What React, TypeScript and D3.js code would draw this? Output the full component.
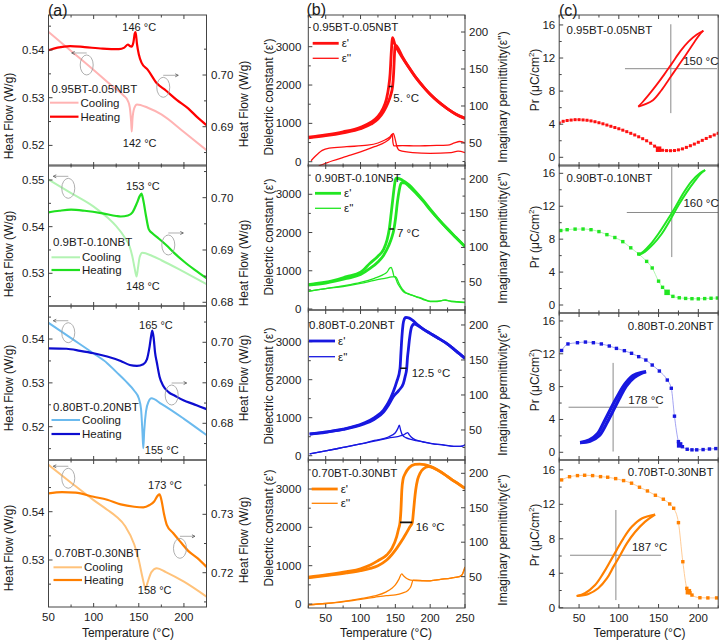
import React from "react";
import * as d3 from "d3";

type Pt = [number, number];

/* ================= (a) DSC: cooling (left axis), heating (right axis) ================= */
const dscCool1: Pt[] = [[50,.5438],[75,.5398],[100,.5358],[120,.5325],[133,.5305],[138,.5293],[140,.528],[141.5,.525],[142.2,.5229],[143,.5255],[145,.5278],[148,.5286],[160,.5279],[175,.5265],[200,.5228],[225,.519]];
const dscHeat1: Pt[] = [[50,.7048],[60,.7053],[74,.7056],[90,.7054],[110,.7051],[128,.705],[134,.7053],[138,.7059],[140,.7056],[142,.7055],[144,.7063],[145.5,.708],[146.5,.7083],[148,.706],[150,.704],[153,.7024],[160,.701],[170,.6984],[180,.697],[192,.6952],[205,.6935],[215,.6918],[225,.6903]];
const dscCool2: Pt[] = [[50,.5501],[75,.5472],[100,.5443],[115,.542],[125,.5401],[135,.5375],[140,.5357],[143,.5335],[145.5,.531],[147.5,.5293],[149,.531],[151,.5335],[154,.5344],[165,.5337],[175,.5328],[200,.5303],[225,.5277]];
const dscHeat2: Pt[] = [[50,.6972],[62,.6975],[75,.6977],[90,.6975],[110,.697],[125,.6965],[130,.6964],[138,.6966],[143,.6972],[148,.699],[151,.7003],[153,.7008],[155,.6995],[158,.6965],[161,.694],[165,.6932],[172,.6922],[180,.691],[190,.6893],[200,.6878],[212,.6862],[225,.6846]];
const dscCool3: Pt[] = [[50,.5437],[75,.5402],[100,.5367],[115,.5345],[125,.5325],[135,.5305],[145,.5282],[150,.5265],[152.5,.524],[154,.519],[155,.5151],[156,.519],[158,.5235],[161,.5258],[164,.5265],[175,.5252],[200,.5218],[225,.5181]];
const dscHeat3: Pt[] = [[50,.6985],[70,.6984],[85,.6979],[100,.6973],[115,.6965],[130,.6954],[140,.6944],[148,.6942],[155,.6946],[159,.6958],[162,.699],[164,.702],[165,.7029],[166.5,.701],[168,.6975],[170,.695],[173,.6915],[177,.6893],[183,.6877],[190,.6868],[200,.6856],[210,.6848],[218,.6841],[225,.6835]];
const dscCool4: Pt[] = [[50,.5497],[75,.546],[100,.5424],[115,.5404],[125,.539],[135,.537],[145,.5332],[150,.53],[154,.5265],[157.5,.5241],[160,.5255],[164,.5275],[170,.5283],[180,.5275],[200,.5255],[225,.5224]];
const dscHeat4: Pt[] = [[50,.7336],[65,.7338],[80,.7337],[100,.733],[115,.7325],[130,.7317],[145,.7313],[155,.7312],[162,.7316],[167,.7322],[171,.7332],[173,.7334],[175,.7325],[178,.73],[181,.7282],[188,.7268],[195,.7255],[205,.7237],[215,.7225],[225,.721]];

const dscSamples = ["0.95BT-0.05NBT", "0.9BT-0.10NBT", "0.80BT-0.20NBT", "0.70BT-0.30NBT"];
const dscHeatPeak = [{ T: 150.5, v: 0.54488, t: "146 °C" }, { T: 154.6, v: 0.54871, t: "153 °C" }, { T: 169, v: 0.54319, t: "165 °C" }, { T: 179, v: 0.54553, t: "173 °C" }];
const dscCoolPeak = [{ T: 151, v: 0.52057, t: "142 °C" }, { T: 154.6, v: 0.52728, t: "148 °C" }, { T: 175.4, v: 0.51469, t: "155 °C" }, { T: 167.6, v: 0.52379, t: "158 °C" }];
const dscCircles = [
  [{ T: 92.3, v: 0.53686, dir: -1 }, { T: 177.1, v: 0.53218, dir: 1 }],
  [{ T: 71.9, v: 0.54822, dir: -1 }, { T: 182.7, v: 0.53607, dir: 1 }],
  [{ T: 71.9, v: 0.54144, dir: -1 }, { T: 186.4, v: 0.52723, dir: 1 }],
  [{ T: 71.9, v: 0.54692, dir: -1 }, { T: 195.6, v: 0.53242, dir: 1 }],
];

/* ================= (b) dielectric: eps' (left), eps'' (right) ================= */
const epsA1: Pt[] = [[25,640],[50,700],[75,780],[100,900],[115,1030],[125,1180],[132,1380],[137,1620],[140.5,1960],[142.5,2300],[144,2800],[145.3,3150],[146,3235],[147,3200],[149,3080],[152,2960],[160,2720],[170,2440],[180,2180],[190,1960],[200,1760],[212,1560],[225,1380],[237,1240],[250,1130]];
const epsB1: Pt[] = [[25,625],[50,680],[75,755],[100,860],[115,980],[125,1110],[133,1300],[139,1520],[143,1720],[146,1960],[147.5,2300],[148.5,2700],[149.5,3000],[151,3030],[154,2960],[160,2740],[170,2450],[180,2185],[190,1960],[200,1760],[212,1560],[225,1380],[237,1240],[250,1130]];
const lossA1: Pt[] = [[29,26],[35,32],[45,40],[55,43],[80,45],[110,47],[125,50],[135,54],[142,58],[145.5,62],[146.5,51],[148,46],[160,46.5],[180,46],[200,46.5],[225,47],[235,50],[242,52],[250,50]];
const lossB1: Pt[] = [[40,19],[60,26],[80,32],[100,38],[120,45],[135,51],[143,57],[147,63],[149,58],[152,46],[156,40],[175,37],[200,36],[230,37],[240,39],[250,37]];

const epsA2: Pt[] = [[25,640],[50,700],[80,846],[100,960],[113.6,1196],[125,1380],[132.7,1545],[138,1800],[141.3,2094],[144,2500],[146.5,2900],[148.5,3200],[150,3380],[151,3421],[153,3420],[160,3370],[170,3240],[180,3050],[190,2840],[200,2610],[212,2350],[224,2110],[237,1870],[250,1631]];
const epsB2: Pt[] = [[25,625],[50,680],[80,800],[100,900],[113.6,1060],[125,1230],[133,1400],[140,1640],[145,1880],[148,2094],[150.5,2400],[153,2800],[155.5,3100],[157.5,3260],[159,3306],[163,3300],[170,3200],[180,3020],[190,2820],[200,2595],[212,2345],[224,2110],[237,1870],[250,1631]];
const lossA2: Pt[] = [[25,36],[50,40],[75,44],[100,49],[120,55],[132,60],[138,64],[142,70],[144,71],[146,66],[148,58],[150,56],[153,48],[158,40],[162,35],[170,32],[180,28],[190,24],[200,21],[210,21],[220,23],[228,22],[240,21],[250,20]];
const lossB2: Pt[] = [[25,36],[50,40],[75,43],[100,47.5],[120,52],[135,55],[145,57],[150,57.5],[152,55],[155,48],[160,39],[165,34],[175,30],[190,25],[200,21.5],[215,22],[222,23.5],[230,21],[250,19.5]];

const epsA3: Pt[] = [[27,571],[50,625],[75,700],[104,853],[120,1000],[133,1203],[140,1400],[147,1684],[152,1950],[156.7,2300],[158,2700],[159.5,3150],[161,3450],[163,3600],[165,3642],[170,3620],[175,3560],[180,3480],[190,3330],[200,3220],[210,3110],[224,2950],[237,2760],[250,2563]];
const epsB3: Pt[] = [[27,565],[50,615],[75,690],[104,830],[120,960],[133,1150],[140,1330],[147,1553],[155,1720],[161.5,1900],[164,2080],[166.3,2300],[167.5,2600],[168.6,2780],[170.5,3100],[173.5,3395],[177.2,3466],[180,3450],[190,3330],[200,3220],[210,3110],[224,2950],[237,2760],[250,2563]];
const lossA3: Pt[] = [[27,15.7],[50,20],[75,25],[100,30],[120,35],[140,40],[150,46],[154,53],[155.7,57],[157.5,50],[160,43],[165,39],[175,36],[190,33],[200,31],[220,28.5],[240,26.5],[246,27],[250,29]];
const lossB3: Pt[] = [[27,15.7],[50,20],[75,25],[100,30],[120,34],[140,38.5],[155,41],[162,43],[166,45.5],[167.7,46.2],[170,43],[175,38],[185,34],[200,31],[220,28.5],[240,26.5],[246,27],[250,29]];

const epsA4: Pt[] = [[23,696],[50,760],[80,843],[100,920],[114,1017],[125,1130],[137.6,1278],[145,1450],[151.9,1757],[154.5,1950],[156.7,2131],[158,2450],[159.3,2974],[161,3250],[164,3400],[170,3560],[178,3640],[185,3652],[192,3635],[200,3590],[210,3500],[220,3390],[230,3260],[240,3140],[250,3018]];
const epsB4: Pt[] = [[23,680],[50,740],[80,810],[100,870],[114,930],[125,1000],[137.6,1148],[151.9,1453],[161.4,1714],[171,2017],[174.4,2131],[175.8,2366],[177.5,2700],[179.2,2974],[182,3250],[185.4,3410],[190,3520],[197.3,3582],[205,3550],[212,3480],[220,3390],[230,3260],[240,3140],[250,3018]];
const lossA4: Pt[] = [[23,9],[50,11],[75,14],[100,18],[120,22],[137,28],[145,33],[150,38],[155,46],[159,54],[162,51],[167,47],[172,45],[185,44],[200,44],[215,46],[230,48],[242,50],[246,53],[250,64]];
const lossB4: Pt[] = [[23,9],[50,11],[75,13.5],[100,17],[120,20],[137,22.5],[150,23.5],[160,26],[168,30],[172,35],[175.8,45],[180,45],[190,44.3],[200,44],[215,46],[230,48],[242,50],[246,53],[250,64]];

const dielSamples = ["0.95BT-0.05NBT", "0.90BT-0.10NBT", "0.80BT-0.20NBT", "0.70BT-0.30NBT"];
const hystWidthText = ["5. °C", "7 °C", "12.5 °C", "16 °C"];
const hystMarks = [
  { t0: 140.5, t1: 146, e: 1960, tx: 147.1, ey: 1654 },
  { t0: 141.3, t1: 148, e: 2094, tx: 152.4, ey: 1997 },
  { t0: 156.7, t1: 166.3, e: 2300, tx: 173.5, ey: 2184 },
  { t0: 156.7, t1: 174.4, e: 2131, tx: 179.2, ey: 2001 },
];

/* ================= (c) remanent polarization Pr vs T ================= */
const prT1 = [25,30,35,40,45,50,55,60,65,70,75,80,85,90,95,100,105,110,115,120,125,130,135,140,145,150,155,160,165,170,175,180,185,190,195,200,205,210,215,220,225];
const prV1 = [4.15,4.35,4.45,4.5,4.55,4.55,4.52,4.48,4.4,4.3,4.18,4.05,3.9,3.75,3.6,3.45,3.28,3.1,2.9,2.7,2.48,2.25,2.0,1.7,1.35,0.98,0.85,0.81,0.8,0.82,0.9,1.02,1.2,1.4,1.6,1.82,2.05,2.28,2.5,2.7,2.9];
const prT2 = [27,35,45,55,65,75,85,95,105,115,125,135,142,150,155,160.7,168,176,184,192,200,208,216,224];
const prV2 = [9.05,9.15,9.22,9.23,9.15,8.92,8.55,8.2,7.7,6.95,6.2,5.3,4.5,2.9,2.15,1.54,1.05,0.88,0.8,0.77,0.75,0.78,0.82,0.85];
const prT3 = [28,36,48,58,68,78,88,97,107,116,125,134,142,151,161,166,170,175,176.5,180,186,192,198,206,214,222];
const prV3 = [12.4,13.2,13.35,13.43,13.35,13.2,12.95,12.66,12.38,12.06,11.65,11.24,10.63,9.9,8.8,7.8,4.4,1.3,0.9,0.68,0.37,0.3,0.3,0.33,0.4,0.45];
const prT4 = [28,38,48,57,67,77,86,96,106,116,126,136,146,156,164,169,175,180.5,185.5,187.5,189.5,192,202,212,223];
const prV4 = [14.83,15.2,15.33,15.37,15.33,15.21,15.14,14.98,14.75,14.45,13.98,13.55,13.05,12.59,12.04,11.54,9.87,5.34,2.25,1.86,1.74,1.47,1.16,1.14,1.14];
const prMarkT = [150, 160.7, 176.5, 187.5];
const loopTempText = ["150 °C", "160 °C", "178 °C", "187 °C"];

// P-E loops (normalized field E, normalized polarization P)
const loopUp1: Pt[] = [[1,1],[0.8,0.9],[0.55,0.72],[0.3,0.47],[0.05,0.16],[-0.2,-0.15],[-0.45,-0.44],[-0.7,-0.71],[-0.88,-0.89],[-1,-1]];
const loopDn1: Pt[] = [[-1,-1],[-0.8,-0.94],[-0.55,-0.83],[-0.3,-0.58],[-0.05,-0.27],[0.2,0.04],[0.45,0.35],[0.7,0.67],[0.88,0.89],[1,1]];
const loopUp2: Pt[] = [[1,1],[0.85,0.93],[0.6,0.74],[0.35,0.46],[0.1,0.12],[-0.15,-0.2],[-0.4,-0.5],[-0.65,-0.76],[-0.85,-0.92],[-1,-1]];
const loopDn2: Pt[] = [[-1,-1],[-0.8,-0.92],[-0.55,-0.74],[-0.3,-0.5],[-0.05,-0.18],[0.2,0.17],[0.45,0.48],[0.7,0.75],[0.88,0.92],[1,1]];
const loopUp3: Pt[] = [[1,1],[0.85,0.98],[0.6,0.89],[0.38,0.68],[0.16,0.36],[-0.06,-0.02],[-0.27,-0.4],[-0.47,-0.74],[-0.72,-0.92],[-1,-1]];
const loopDn3: Pt[] = [[-1,-1],[-0.7,-0.96],[-0.42,-0.8],[-0.22,-0.5],[-0.02,-0.14],[0.2,0.26],[0.4,0.6],[0.64,0.84],[0.86,0.96],[1,1]];
const loopUp4: Pt[] = [[1,1],[0.66,0.9],[0.4,0.69],[0.19,0.41],[0.02,0.13],[-0.15,-0.16],[-0.32,-0.44],[-0.53,-0.73],[-0.79,-0.93],[-1,-1]];
const loopDn4: Pt[] = [[-1,-1],[-0.7,-0.95],[-0.45,-0.81],[-0.23,-0.57],[-0.06,-0.28],[0.11,0.0],[0.28,0.29],[0.49,0.57],[0.74,0.82],[1,1]];
// inset placement of each loop in panel data units (T, Pr) and half sizes
const loopBox = [
  { cT: 165.4, cP: 10.71, hT: 40.9, hP: 4.59, vx: [-1.17, 1.17], hx: [-1.41, 1.42], tx: 0.38, ty: 0.2 },
  { cT: 166.6, cP: 11.24, hT: 41.9, hP: 5.16, vx: [-1.05, 1.08], hx: [-1.35, 1.4], tx: 0.35, ty: 0.22 },
  { cT: 92.8, cP: 5.49, hT: 41.5, hP: 4.32, vx: [-1.25, 1.25], hx: [-1.35, 1.37], tx: 0.46, ty: 0.2 },
  { cT: 96.3, cP: 6.09, hT: 49.3, hP: 4.73, vx: [-1.1, 1.11], hx: [-1.17, 1.15], tx: 0.41, ty: 0.21 },
];

/* ================= styling / layout ================= */
const FONT = "'Liberation Sans', Arial, Helvetica, sans-serif";
const AX = "#444";
const TXT = "#1a1a1a";
const COLORS = [
  { heat: "#ff0000", cool: "#ffb3b3", main: "#ff1010", light: "#ffa0a0", loopW: 1.8 },
  { heat: "#1fe01f", cool: "#b2f3b2", main: "#22e622", light: "#a8f5a8", loopW: 2 },
  { heat: "#0d0dd0", cool: "#6bbaee", main: "#1818e0", light: "#9a9af0", loopW: 3.2 },
  { heat: "#ff7f00", cool: "#ffc27a", main: "#ff8000", light: "#ffc58a", loopW: 2.2 },
];

const ROWS_A = [
  { y0: 15, y1: 166, L: [0.51568, 0.54734], R: [0.6824, 0.71161], Lt: [0.52, 0.53, 0.54], Rt: [0.69, 0.70], title: 116, titleR: 104, lab: 74, cool: 87.7, heat: 101.7, lx: 51.5 },
  { y0: 165, y1: 306, L: [0.52299, 0.55322], R: [0.67929, 0.70625], Lt: [0.53, 0.54, 0.55], Rt: [0.68, 0.69, 0.70], title: 254, titleR: 263, lab: 76.7, cool: 92.3, heat: 105, lx: 53 },
  { y0: 306, y1: 460, L: [0.51241, 0.54753], R: [0.67094, 0.70896], Lt: [0.52, 0.53, 0.54], Rt: [0.68, 0.69, 0.70], title: 388, titleR: 378, lab: 100.7, cool: 114, heat: 128, lx: 53 },
  { y0: 460, y1: 607, L: [0.52027, 0.5507], R: [0.71413, 0.7393], Lt: [0.53, 0.54], Rt: [0.72, 0.73], title: 548, titleR: 540, lab: 93.3, cool: 107.3, heat: 120, lx: 55 },
];
const ROWS_B = [
  { y0: 15, y1: 166, L: [-112, 3827], R: [18.9, 223], title: 97, titleR: 97, lab: 11.7, e1: 28.3, e2: 43.3, lx: 312.7 },
  { y0: 165, y1: 310, L: [-26, 3766], R: [8.7, 220.4], title: 237, titleR: 238, lab: 13.3, e1: 28.3, e2: 43.3, lx: 315 },
  { y0: 310, y1: 460, L: [-113, 3834], R: [7.1, 221.4], title: 386, titleR: 390, lab: 15, e1: 31, e2: 46.7, lx: 309 },
  { y0: 460, y1: 608, L: [-104, 3757], R: [4.5, 219.3], title: 528, titleR: 540, lab: 13.3, e1: 29, e2: 43.3, lx: 311.7 },
];
const ROWS_C = [
  { y0: 15, y1: 166, L: [-1.05, 17.2], title: 80, lab: 15, right: false },
  { y0: 165, y1: 313, L: [-0.97, 17.01], title: 237, lab: 13.3, right: false },
  { y0: 313, y1: 460, L: [-0.94, 16.97], title: 380, lab: 13, right: true },
  { y0: 460, y1: 608, L: [-0.03, 17.14], title: 535, lab: 12.3, right: true },
];

const dscData = [[dscCool1, dscHeat1], [dscCool2, dscHeat2], [dscCool3, dscHeat3], [dscCool4, dscHeat4]];
const dielData = [[epsA1, epsB1, lossA1, lossB1], [epsA2, epsB2, lossA2, lossB2], [epsA3, epsB3, lossA3, lossB3], [epsA4, epsB4, lossA4, lossB4]];
const prData = [[prT1, prV1], [prT2, prV2], [prT3, prV3], [prT4, prV4]];
const loops = [[loopUp1, loopDn1], [loopUp2, loopDn2], [loopUp3, loopDn3], [loopUp4, loopDn4]];

type Lin = d3.ScaleLinear<number, number>;

function Frame(p: {
  id: string; xs: Lin; y0: number; y1: number; xMajor: number[]; xMinor: number[]; xLabels: boolean;
  yl: Lin; ylMajor: number[]; ylMinor: number[]; ylFmt: (v: number) => string; ylOff: number;
  yr?: Lin; yrMajor?: number[]; yrMinor?: number[]; yrFmt?: (v: number) => string; yrOff?: number;
}) {
  const [x0, x1] = p.xs.range();
  const els: React.ReactNode[] = [];
  let k = 0;
  p.xMajor.forEach((t) => {
    const x = p.xs(t);
    els.push(<line key={k++} x1={x} x2={x} y1={p.y1} y2={p.y1 - 4} stroke={AX} />);
    els.push(<line key={k++} x1={x} x2={x} y1={p.y0} y2={p.y0 + 4} stroke={AX} />);
    if (p.xLabels)
      els.push(<text key={k++} x={x} y={p.y1 + 9.5} textAnchor="middle" dominantBaseline="central" fontSize={11.5} fill={TXT}>{t}</text>);
  });
  p.xMinor.forEach((t) => {
    const x = p.xs(t);
    els.push(<line key={k++} x1={x} x2={x} y1={p.y1} y2={p.y1 - 2.5} stroke={AX} />);
    els.push(<line key={k++} x1={x} x2={x} y1={p.y0} y2={p.y0 + 2.5} stroke={AX} />);
  });
  p.ylMajor.forEach((v) => {
    const y = p.yl(v);
    els.push(<line key={k++} x1={x0} x2={x0 + 4} y1={y} y2={y} stroke={AX} />);
    els.push(<text key={k++} x={x0 - p.ylOff} y={y} textAnchor="end" dominantBaseline="central" fontSize={11.5} fill={TXT}>{p.ylFmt(v)}</text>);
  });
  p.ylMinor.forEach((v) => {
    const y = p.yl(v);
    els.push(<line key={k++} x1={x0} x2={x0 + 2.5} y1={y} y2={y} stroke={AX} />);
  });
  if (p.yr) {
    (p.yrMajor || []).forEach((v) => {
      const y = p.yr!(v);
      els.push(<line key={k++} x1={x1} x2={x1 - 4} y1={y} y2={y} stroke={AX} />);
      els.push(<text key={k++} x={x1 + (p.yrOff || 4)} y={y} textAnchor="start" dominantBaseline="central" fontSize={11.5} fill={TXT}>{p.yrFmt!(v)}</text>);
    });
    (p.yrMinor || []).forEach((v) => {
      const y = p.yr!(v);
      els.push(<line key={k++} x1={x1} x2={x1 - 2.5} y1={y} y2={y} stroke={AX} />);
    });
  }
  return (
    <g>
      <rect x={x0} y={p.y0} width={x1 - x0} height={p.y1 - p.y0} fill="none" stroke={AX} strokeWidth={1} />
      {els}
    </g>
  );
}

const inDomain = (vals: number[], s: Lin) => {
  const [a, b] = s.domain();
  return vals.filter((v) => v >= Math.min(a, b) && v <= Math.max(a, b));
};

export default function App() {
  const xa = d3.scaleLinear().domain([50, 225]).range([48.5, 206.5]);
  const xb = d3.scaleLinear().domain([25, 250]).range([308.3, 465]);
  const xc = d3.scaleLinear().domain([25, 225]).range([559.2, 718.2]);
  const fmt2 = d3.format(".2f");

  const panels: React.ReactNode[] = [];

  /* ---------- column (a) ---------- */
  ROWS_A.forEach((r, i) => {
    const yl = d3.scaleLinear().domain(r.L).range([r.y1, r.y0]);
    const yr = d3.scaleLinear().domain(r.R).range([r.y1, r.y0]);
    const c = COLORS[i];
    const [cool, heat] = dscData[i];
    const lineL = d3.line<Pt>().x((d) => xa(d[0])).y((d) => yl(d[1])).curve(d3.curveMonotoneX);
    const lineR = d3.line<Pt>().x((d) => xa(d[0])).y((d) => yr(d[1])).curve(d3.curveMonotoneX);
    const [x0, x1] = xa.range();
    const id = `ca${i}`;
    const legX = r.lx;
    panels.push(
      <g key={`a${i}`}>
        <clipPath id={id}><rect x={x0} y={r.y0} width={x1 - x0} height={r.y1 - r.y0} /></clipPath>
        <g clipPath={`url(#${id})`}>
          <path d={lineL(cool) || ""} fill="none" stroke={c.cool} strokeWidth={2} />
          <path d={lineR(heat) || ""} fill="none" stroke={c.heat} strokeWidth={2.2} />
          {dscCircles[i].map((e, j) => {
            const cx = xa(e.T), cy = yl(e.v);
            const ay = cy - 12;
            const ax = cx + e.dir * 15;
            return (
              <g key={j} stroke="#9a9a9a" fill="none" strokeWidth={0.8}>
                <ellipse cx={cx} cy={cy} rx={6.5} ry={10} />
                <line x1={cx} x2={ax} y1={ay} y2={ay} />
                <path d={`M${ax},${ay} l${-e.dir * 3},-1.5 M${ax},${ay} l${-e.dir * 3},1.5`} stroke="#555" />
              </g>
            );
          })}
        </g>
        <Frame id={id} xs={xa} y0={r.y0} y1={r.y1} xMajor={[50, 100, 150, 200]} xMinor={[75, 125, 175, 225]} xLabels={i === 3}
          yl={yl} ylMajor={r.Lt} ylMinor={inDomain(d3.range(0.505, 0.56, 0.01), yl)} ylFmt={fmt2} ylOff={4}
          yr={yr} yrMajor={r.Rt} yrMinor={inDomain(d3.range(0.665, 0.745, 0.01), yr)} yrFmt={fmt2} yrOff={4.5} />
        <text x={xa(dscHeatPeak[i].T)} y={yl(dscHeatPeak[i].v)} textAnchor="middle" dominantBaseline="central" fontSize={11} fill={TXT}>{dscHeatPeak[i].t}</text>
        <text x={xa(dscCoolPeak[i].T)} y={yl(dscCoolPeak[i].v)} textAnchor="middle" dominantBaseline="central" fontSize={11} fill={TXT}>{dscCoolPeak[i].t}</text>
        <text x={legX} y={r.y0 + r.lab} dominantBaseline="central" fontSize={11.5} fill={TXT}>{dscSamples[i]}</text>
        <line x1={legX - 1.5} x2={legX + 27} y1={r.y0 + r.cool} y2={r.y0 + r.cool} stroke={c.cool} strokeWidth={2} />
        <text x={legX + 29} y={r.y0 + r.cool} dominantBaseline="central" fontSize={11.5} fill={TXT}>Cooling</text>
        <line x1={legX - 1.5} x2={legX + 27} y1={r.y0 + r.heat} y2={r.y0 + r.heat} stroke={c.heat} strokeWidth={2.2} />
        <text x={legX + 29} y={r.y0 + r.heat} dominantBaseline="central" fontSize={11.5} fill={TXT}>Heating</text>
        <text transform={`translate(9,${r.title}) rotate(-90)`} textAnchor="middle" dominantBaseline="central" fontSize={12} fill={TXT}>Heat Flow (W/g)</text>
        <text transform={`translate(244,${r.titleR}) rotate(-90)`} textAnchor="middle" dominantBaseline="central" fontSize={12} fill={TXT}>Heat Flow (W/g)</text>
      </g>
    );
  });

  /* ---------- column (b) ---------- */
  ROWS_B.forEach((r, i) => {
    const yl = d3.scaleLinear().domain(r.L).range([r.y1, r.y0]);
    const yr = d3.scaleLinear().domain(r.R).range([r.y1, r.y0]);
    const c = COLORS[i];
    const [ea, eb, la, lb] = dielData[i];
    const lineL = d3.line<Pt>().x((d) => xb(d[0])).y((d) => yl(d[1])).curve(d3.curveMonotoneX);
    const lineR = d3.line<Pt>().x((d) => xb(d[0])).y((d) => yr(d[1])).curve(d3.curveMonotoneX);
    const [x0, x1] = xb.range();
    const id = `cb${i}`;
    const m = hystMarks[i];
    panels.push(
      <g key={`b${i}`}>
        <clipPath id={id}><rect x={x0} y={r.y0} width={x1 - x0} height={r.y1 - r.y0} /></clipPath>
        <g clipPath={`url(#${id})`}>
          <path d={lineR(la) || ""} fill="none" stroke={c.main} strokeWidth={1.3} />
          <path d={lineR(lb) || ""} fill="none" stroke={c.main} strokeWidth={1.3} />
          <path d={lineL(ea) || ""} fill="none" stroke={c.main} strokeWidth={2.8} />
          <path d={lineL(eb) || ""} fill="none" stroke={c.main} strokeWidth={2.8} />
          <line x1={xb(m.t0)} x2={xb(m.t1)} y1={yl(m.e)} y2={yl(m.e)} stroke="#111" strokeWidth={1.6} />
        </g>
        <Frame id={id} xs={xb} y0={r.y0} y1={r.y1} xMajor={[50, 100, 150, 200, 250]} xMinor={[25, 75, 125, 175, 225]} xLabels={i === 3}
          yl={yl} ylMajor={[0, 1000, 2000, 3000]} ylMinor={[500, 1500, 2500, 3500]} ylFmt={(v) => String(v)} ylOff={7}
          yr={yr} yrMajor={[50, 100, 150, 200]} yrMinor={inDomain([25, 75, 125, 175], yr)} yrFmt={(v) => String(v)} yrOff={4} />
        <text x={xb(m.tx)} y={yl(m.ey)} dominantBaseline="central" fontSize={11.5} fill={TXT}>{hystWidthText[i]}</text>
        <text x={r.lx} y={r.y0 + r.lab} dominantBaseline="central" fontSize={11.5} fill={TXT}>{dielSamples[i]}</text>
        <line x1={r.lx} x2={r.lx + 26} y1={r.y0 + r.e1} y2={r.y0 + r.e1} stroke={c.main} strokeWidth={2.8} />
        <text x={r.lx + 29} y={r.y0 + r.e1} dominantBaseline="central" fontSize={11.5} fill={TXT}>ε'</text>
        <line x1={r.lx} x2={r.lx + 26} y1={r.y0 + r.e2} y2={r.y0 + r.e2} stroke={c.main} strokeWidth={1.3} />
        <text x={r.lx + 29} y={r.y0 + r.e2} dominantBaseline="central" fontSize={11.5} fill={TXT}>ε''</text>
        <text transform={`translate(269,${r.title}) rotate(-90)`} textAnchor="middle" dominantBaseline="central" fontSize={12} fill={TXT}>Dielectric constant (ε')</text>
        <text transform={`translate(503,${r.titleR}) rotate(-90)`} textAnchor="middle" dominantBaseline="central" fontSize={12} fill={TXT}>Imaginary permittivity(ε'')</text>
      </g>
    );
  });

  /* ---------- column (c) ---------- */
  ROWS_C.forEach((r, i) => {
    const yl = d3.scaleLinear().domain(r.L).range([r.y1, r.y0]);
    const c = COLORS[i];
    const [ts, vs] = prData[i];
    const pts: Pt[] = ts.map((t, j) => [t, vs[j]]);
    const line = d3.line<Pt>().x((d) => xc(d[0])).y((d) => yl(d[1])).curve(d3.curveMonotoneX);
    const [x0, x1] = xc.range();
    const id = `cc${i}`;
    const b = loopBox[i];
    const lx = d3.scaleLinear().domain([-1, 1]).range([xc(b.cT - b.hT), xc(b.cT + b.hT)]);
    const ly = d3.scaleLinear().domain([-1, 1]).range([yl(b.cP - b.hP), yl(b.cP + b.hP)]);
    const loopLine = d3.line<Pt>().x((d) => lx(d[0])).y((d) => ly(d[1])).curve(d3.curveCatmullRom);
    const [up, dn] = loops[i];
    const sz = i === 0 ? 3 : 3.4;
    panels.push(
      <g key={`c${i}`}>
        <clipPath id={id}><rect x={x0} y={r.y0} width={x1 - x0} height={r.y1 - r.y0} /></clipPath>
        <g clipPath={`url(#${id})`}>
          <path d={line(pts) || ""} fill="none" stroke={c.light} strokeWidth={0.9} />
          {pts.map((d, j) => {
            const big = Math.abs(d[0] - prMarkT[i]) < 0.01;
            const s = big ? 5.5 : sz;
            return <rect key={j} x={xc(d[0]) - s / 2} y={yl(d[1]) - s / 2} width={s} height={s} fill={c.main} />;
          })}
          <line x1={lx(0)} x2={lx(0)} y1={ly(b.vx[0])} y2={ly(b.vx[1])} stroke="#8a8a8a" strokeWidth={1} />
          <line x1={lx(b.hx[0])} x2={lx(b.hx[1])} y1={ly(0)} y2={ly(0)} stroke="#8a8a8a" strokeWidth={1} />
          <path d={loopLine(up) || ""} fill="none" stroke={c.main} strokeWidth={c.loopW} />
          <path d={loopLine(dn) || ""} fill="none" stroke={c.main} strokeWidth={c.loopW} />
        </g>
        <Frame id={id} xs={xc} y0={r.y0} y1={r.y1} xMajor={[50, 100, 150, 200]} xMinor={[25, 75, 125, 175, 225]} xLabels={i === 3}
          yl={yl} ylMajor={[0, 4, 8, 12, 16]} ylMinor={[2, 6, 10, 14]} ylFmt={(v) => String(v)} ylOff={4} />
        <text x={lx(b.tx)} y={ly(b.ty)} dominantBaseline="central" fontSize={11.5} fill={TXT}>{loopTempText[i]}</text>
        {r.right ? (
          <text x={713.5} y={r.y0 + r.lab} textAnchor="end" dominantBaseline="central" fontSize={11.5} fill={TXT}>{dielSamples[i]}</text>
        ) : (
          <text x={566.5} y={r.y0 + r.lab} dominantBaseline="central" fontSize={11.5} fill={TXT}>{dielSamples[i]}</text>
        )}
        <text transform={`translate(535,${r.title}) rotate(-90)`} textAnchor="middle" dominantBaseline="central" fontSize={12} fill={TXT}>
          Pr (μC/cm<tspan dy={-4} fontSize={8}>2</tspan><tspan dy={4}>)</tspan>
        </text>
      </g>
    );
  });

  return (
    <div style={{ position: "absolute", left: 0, top: 0 }}>
      <svg width={721} height={643} viewBox="0 0 721 643" style={{ display: "block", background: "#fff" }} fontFamily={FONT}>
        <rect x={0} y={0} width={721} height={643} fill="#fff" />
        {panels}
        <text x={48} y={10} dominantBaseline="central" fontSize={16} fill={TXT}>(a)</text>
        <text x={306.5} y={9} dominantBaseline="central" fontSize={16} fill={TXT}>(b)</text>
        <text x={559} y={10} dominantBaseline="central" fontSize={16} fill={TXT}>(c)</text>
        <text x={128} y={633} textAnchor="middle" dominantBaseline="central" fontSize={12} fill={TXT}>Temperature (°C)</text>
        <text x={386} y={633} textAnchor="middle" dominantBaseline="central" fontSize={12} fill={TXT}>Temperature (°C)</text>
        <text x={639.5} y={633} textAnchor="middle" dominantBaseline="central" fontSize={12} fill={TXT}>Temperature (°C)</text>
      </svg>
    </div>
  );
}
